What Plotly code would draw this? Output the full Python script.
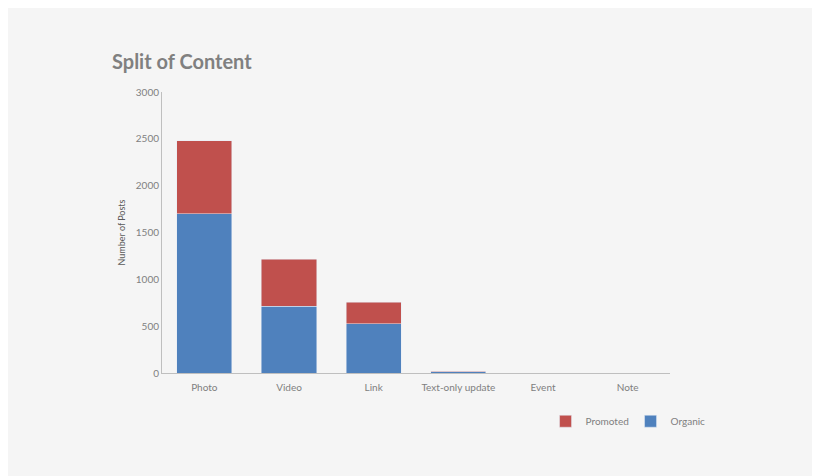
import plotly.graph_objects as go

categories = ["Photo", "Video", "Link", "Text-only update", "Event", "Note"]
organic = [1700, 715, 525, 15, 0, 0]
promoted = [780, 500, 230, 6, 0, 0]

grey = "#808080"

fig = go.Figure()
fig.add_trace(go.Bar(x=categories, y=organic, name="Organic", marker_color="#4f81bd"))
fig.add_trace(go.Bar(x=categories, y=promoted, name="Promoted", marker_color="#c0504d"))

# page adds an 8px body margin, so shift everything up/left by 8px
fig.update_layout(
    barmode="stack",
    bargap=0.35,
    width=820, height=476,
    margin=dict(l=154, r=158, t=84, b=111),
    paper_bgcolor="#f5f5f5",
    plot_bgcolor="#f5f5f5",
    font=dict(family="Lato, Open Sans, sans-serif", color=grey, size=10),
    title=dict(text="<b>Split of Content</b>", x=104 / 820, xanchor="left",
               y=1 - 54 / 476, yanchor="middle",
               font=dict(size=20, color="#808080")),
    legend=dict(orientation="h", traceorder="reversed", x=0.755, y=-0.12,
                xanchor="left", yanchor="top", font=dict(size=10, color=grey),
                itemwidth=30, entrywidth=40),
    showlegend=True,
)
fig.update_yaxes(range=[0, 3000], dtick=500, showgrid=False, showline=True,
                 linecolor="#bfbfbf", zeroline=False, ticks="",
                 tickfont=dict(color=grey),
                 title=dict(text="Number of Posts", font=dict(size=9, color="#595959"),
                            standoff=8))
fig.update_xaxes(showline=True, linecolor="#bfbfbf", ticks="outside", ticklen=5,
                 tickcolor="rgba(0,0,0,0)", showgrid=False,
                 tickfont=dict(color=grey))

fig.write_html("out.html")
